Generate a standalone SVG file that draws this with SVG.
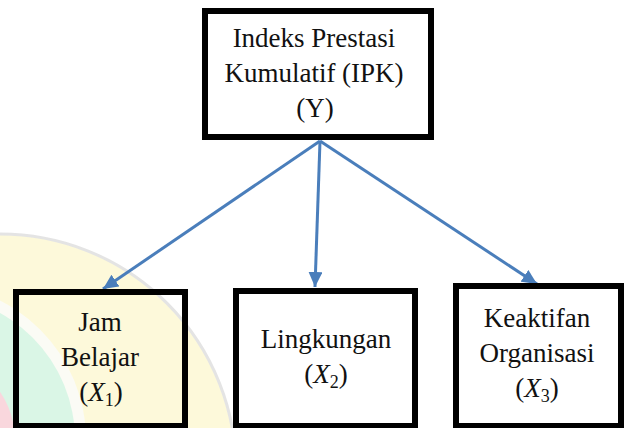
<svg xmlns="http://www.w3.org/2000/svg" width="625" height="428" viewBox="0 0 625 428">
<style>
.box{fill:none;stroke:#000;stroke-width:6}
.t{font-family:"Liberation Serif","Times New Roman",serif;font-size:27px;fill:#111;text-anchor:middle}
.i{font-style:italic}
.sub{font-size:18px}
.con{stroke:#4A7EBB;stroke-width:3;fill:none}
</style>
<defs>
<marker id="ah" markerUnits="userSpaceOnUse" markerWidth="15" markerHeight="14" refX="15" refY="7" orient="auto">
<path d="M0,0 L15,7 L0,14 z" fill="#4A7EBB"/>
</marker>
<clipPath id="page"><rect x="0" y="0" width="625" height="428"/></clipPath>
</defs>
<rect width="625" height="428" fill="#fff"/>
<g id="watermark" clip-path="url(#page)" opacity="0.9">
<circle cx="0" cy="470" r="236" fill="#FDF9D6" stroke="#E2E2E2" stroke-width="3"/>
<circle cx="-70" cy="440" r="156" fill="#FBFBF4"/>
<circle cx="-70" cy="440" r="145" fill="#D6F6E4"/>
<circle cx="-70" cy="440" r="85" fill="#F9D3DA"/>
</g>
<g id="connectors">
<line class="con" x1="320" y1="141" x2="103" y2="289" marker-end="url(#ah)"/>
<line class="con" x1="320" y1="141" x2="315" y2="287" marker-end="url(#ah)"/>
<line class="con" x1="320" y1="141" x2="537" y2="284" marker-end="url(#ah)"/>
</g>
<g id="ipk">
<rect class="box" x="205" y="11" width="226" height="126"/>
<text class="t" x="314" y="47">Indeks Prestasi</text>
<text class="t" x="314" y="82">Kumulatif (IPK)</text>
<text class="t" x="315" y="117">(Y)</text>
</g>
<g id="jam-belajar">
<rect class="box" x="16" y="292" width="169" height="134"/>
<text class="t" x="100" y="331">Jam</text>
<text class="t" x="100" y="366">Belajar</text>
<text class="t" x="101" y="401">(<tspan class="i">X</tspan><tspan class="sub" dy="5">1</tspan><tspan dy="-5">)</tspan></text>
</g>
<g id="lingkungan">
<rect class="box" x="236" y="291" width="179" height="135"/>
<text class="t" x="326" y="348">Lingkungan</text>
<text class="t" x="326" y="383">(<tspan class="i">X</tspan><tspan class="sub" dy="5">2</tspan><tspan dy="-5">)</tspan></text>
</g>
<g id="keaktifan-organisasi">
<rect class="box" x="456" y="286" width="165" height="140"/>
<text class="t" x="537" y="327">Keaktifan</text>
<text class="t" x="537" y="362">Organisasi</text>
<text class="t" x="537" y="397">(<tspan class="i">X</tspan><tspan class="sub" dy="5">3</tspan><tspan dy="-5">)</tspan></text>
</g>
</svg>
